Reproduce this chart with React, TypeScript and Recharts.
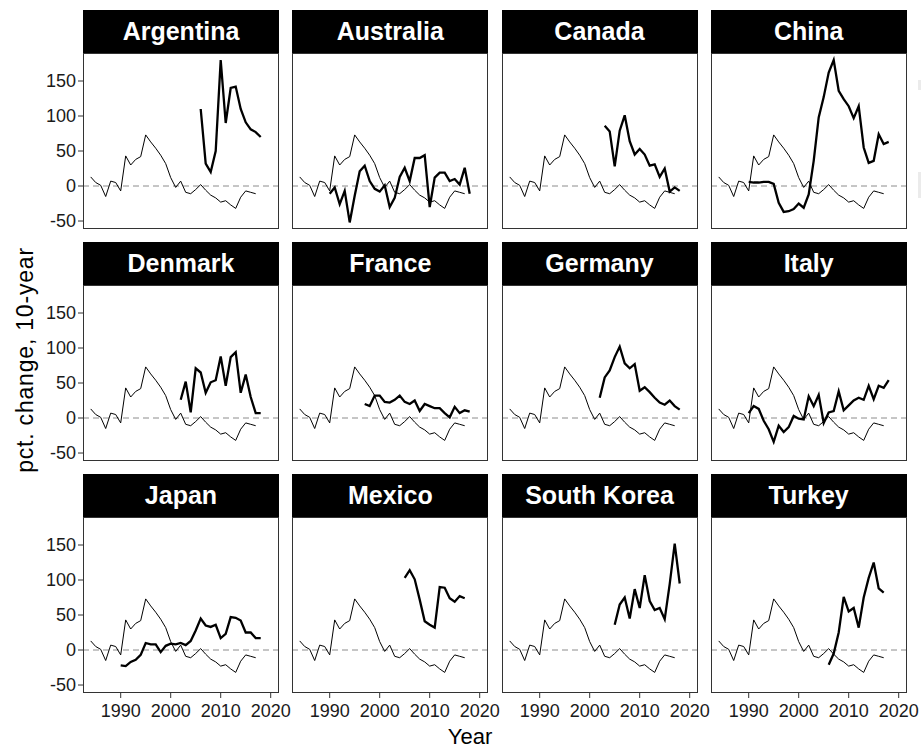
import React from 'react';
import { LineChart, Line, XAxis, YAxis, ReferenceLine } from 'recharts';

// reference series (thin line, same in every panel)
const refStart = 1984;
const refValues = [13, 5, 1, -15, 7, 5, -7, 43, 30, 38, 42, 73, 63, 54, 44, 32, 12, -2, 7, -9, -11, -5, 2, -6, -13, -17, -23, -21, -27, -32, -16, -7, -9, -11];

// country series (thick line)
const argentina = [110, 32, 20, 50, 180, 90, 140, 142, 110, 91, 81, 77, 70];
const australia = [-11, -2, -26, -7, -52, -14, 21, 29, 7, -4, -8, 1, -30, -17, 13, 26, 7, 40, 40, 44, -30, 12, 19, 19, 7, 10, 2, 26, -11];
const canada = [86, 78, 28, 79, 101, 64, 45, 53, 45, 29, 31, 13, 25, -8, -2, -7];
const china = [6, 5, 5, 6, 6, 3, -24, -37, -36, -33, -25, -31, -12, 36, 98, 127, 162, 180, 136, 124, 114, 97, 114, 55, 33, 36, 74, 60, 63];
const denmark = [26, 52, 8, 71, 65, 36, 51, 54, 88, 46, 87, 94, 36, 62, 30, 7, 7];
const france = [20, 17, 32, 32, 23, 22, 26, 32, 23, 20, 25, 10, 20, 17, 14, 14, 7, 1, 16, 7, 11, 9];
const germany = [29, 58, 68, 87, 102, 78, 71, 77, 39, 44, 37, 29, 22, 19, 25, 17, 12];
const italy = [7, 17, 13, -4, -16, -34, -11, -20, -13, 3, -1, -2, 31, 17, 33, -7, 8, 10, 38, 11, 18, 25, 29, 26, 46, 27, 46, 43, 54];
const japan = [-22, -23, -17, -14, -7, 10, 8, 8, -3, 6, 9, 8, 10, 7, 13, 28, 45, 35, 33, 36, 17, 23, 47, 46, 42, 25, 25, 17, 17];
const mexico = [103, 114, 101, 72, 41, 36, 32, 90, 89, 74, 69, 77, 74];
const southKorea = [36, 65, 75, 45, 87, 60, 107, 70, 57, 60, 44, 94, 152, 95];
const turkey = [-21, -5, 25, 76, 55, 60, 32, 75, 103, 125, 88, 82];

const countries = [
  { name: 'Argentina', start: 2006, values: argentina },
  { name: 'Australia', start: 1990, values: australia },
  { name: 'Canada', start: 2003, values: canada },
  { name: 'China', start: 1990, values: china },
  { name: 'Denmark', start: 2002, values: denmark },
  { name: 'France', start: 1997, values: france },
  { name: 'Germany', start: 2002, values: germany },
  { name: 'Italy', start: 1990, values: italy },
  { name: 'Japan', start: 1990, values: japan },
  { name: 'Mexico', start: 2005, values: mexico },
  { name: 'South Korea', start: 2005, values: southKorea },
  { name: 'Turkey', start: 2006, values: turkey },
];

const xTicks = [1990, 2000, 2010, 2020];
const yTicks = [-50, 0, 50, 100, 150];

const FONT = '"Liberation Sans", Arial, Helvetica, sans-serif';
const COL_LEFT = [83, 292.3, 501.5, 710.7];
const ROW_TOP = [9.5, 241.5, 473.5];
const STRIP_H = 43;
const PLOT_W = 196;
const PLOT_H = 176;
const Y_AXIS_W = 45;
const X_AXIS_H = 34;
const PAD_R = 24; // room for the last x tick label
const PAD_B = 12; // room for the lowest y tick label

function buildRows(start: number, values: number[]) {
  const end = Math.max(refStart + refValues.length - 1, start + values.length - 1);
  const first = Math.min(refStart, start);
  const rows = [];
  for (let y = first; y <= end; y++) {
    const ri = y - refStart;
    const ci = y - start;
    rows.push({
      year: y,
      ref: ri >= 0 && ri < refValues.length ? refValues[ri] : null,
      value: ci >= 0 && ci < values.length ? values[ci] : null,
    });
  }
  return rows;
}

const tickStyle = { fontSize: 18, fill: '#1a1a1a', fontFamily: FONT };

function Panel({ idx }: { idx: number }) {
  const c = countries[idx];
  const col = idx % 4;
  const row = Math.floor(idx / 4);
  const left = COL_LEFT[col];
  const top = ROW_TOP[row];
  const showY = col === 0;
  const showX = row === 2;
  const data = buildRows(c.start, c.values);
  const chartLeft = left - (showY ? Y_AXIS_W : 0);
  const plotTop = top + STRIP_H;
  const padB = showX ? 0 : PAD_B;
  return (
    <>
      <div
        style={{
          position: 'absolute', left, top, width: PLOT_W, height: STRIP_H,
          background: '#000', color: '#fff', fontFamily: FONT, fontWeight: 'bold',
          fontSize: 25, display: 'flex', alignItems: 'center', justifyContent: 'center',
        }}
      >
        {c.name}
      </div>
      <div style={{ position: 'absolute', left: chartLeft, top: plotTop }}>
        <LineChart
          width={PLOT_W + (showY ? Y_AXIS_W : 0) + PAD_R}
          height={PLOT_H + (showX ? X_AXIS_H : 0) + padB}
          data={data}
          margin={{ top: 0, right: PAD_R, bottom: padB, left: 0 }}
        >
          <XAxis
            dataKey="year"
            type="number"
            domain={[1982.46, 2021.66]}
            allowDataOverflow
            ticks={xTicks}
            interval={0}
            hide={!showX}
            height={X_AXIS_H}
            axisLine={false}
            tickLine={{ stroke: '#333' }}
            tickSize={5}
            tickMargin={6}
            tick={tickStyle}
          />
          <YAxis
            type="number"
            domain={[-61.4, 190]}
            allowDataOverflow
            ticks={yTicks}
            interval={0}
            hide={!showY}
            width={Y_AXIS_W}
            axisLine={false}
            tickLine={{ stroke: '#333' }}
            tickSize={5}
            tickMargin={2}
            tick={tickStyle}
          />
          <ReferenceLine y={0} stroke="#8c8c8c" strokeDasharray="6 4" strokeWidth={1} />
          <Line
            dataKey="ref"
            stroke="#000"
            strokeWidth={1}
            dot={false}
            isAnimationActive={false}
            type="linear"
          />
          <Line
            dataKey="value"
            stroke="#000"
            strokeWidth={2.3}
            dot={false}
            isAnimationActive={false}
            type="linear"
          />
        </LineChart>
      </div>
      <div
        style={{
          position: 'absolute', left, top: plotTop, width: PLOT_W, height: PLOT_H,
          border: '1px solid #333', boxSizing: 'border-box', pointerEvents: 'none',
        }}
      />
    </>
  );
}

export default function App() {
  return (
    <div style={{ position: 'absolute', left: 0, top: 0, width: 921, height: 748, background: '#fff', overflow: 'hidden' }}>
      {countries.map((_, i) => (
        <Panel key={i} idx={i} />
      ))}
      <div
        style={{
          position: 'absolute', left: 25, top: 360, transform: 'translate(-50%, -50%) rotate(-90deg)',
          fontFamily: FONT, fontSize: 23, letterSpacing: 0.8, color: '#000', whiteSpace: 'nowrap',
        }}
      >
        pct. change, 10-year
      </div>
      <div
        style={{
          position: 'absolute', left: 470, top: 737, transform: 'translate(-50%, -50%)',
          fontFamily: FONT, fontSize: 22, color: '#000', whiteSpace: 'nowrap',
        }}
      >
        Year
      </div>
      <div style={{ position: 'absolute', left: 918, top: 80, width: 3, height: 10, background: '#ebebeb' }} />
      <div style={{ position: 'absolute', left: 918, top: 172, width: 3, height: 26, background: '#ebebeb' }} />
    </div>
  );
}
